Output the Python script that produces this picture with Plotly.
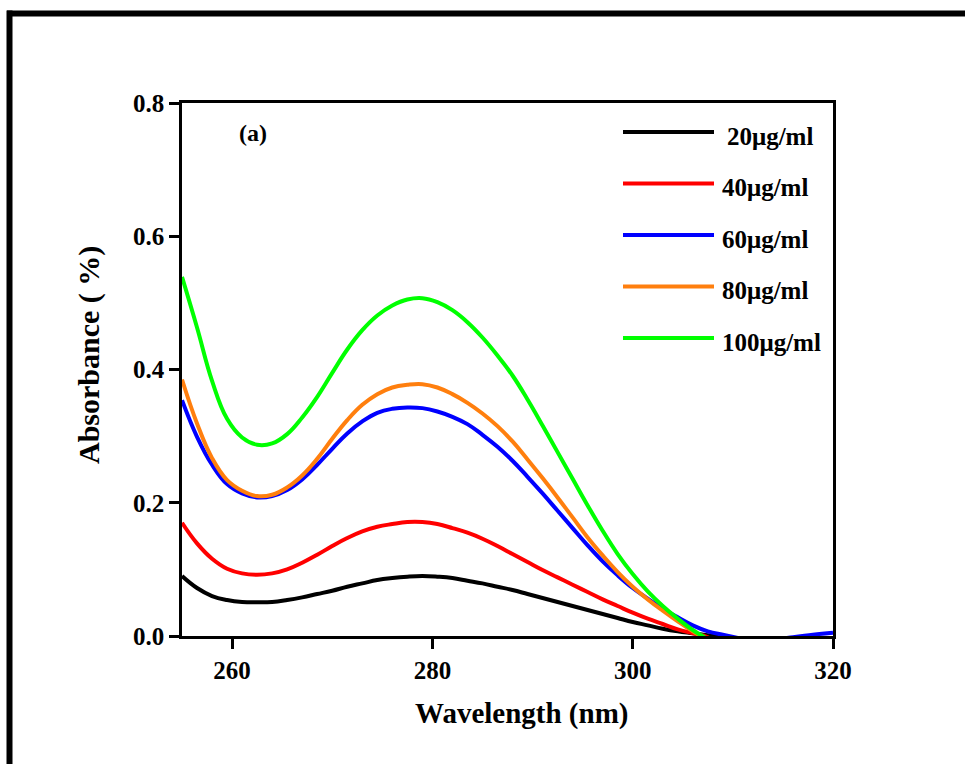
import plotly.graph_objects as go

# ---- data ----
wavelength = [255, 256.5, 258, 259.5, 261, 262.5, 264, 265.5, 267, 268.5, 270, 271.5, 273, 274.5,
              276, 277.5, 279, 280.5, 282, 283.5, 285, 286.5, 288, 289.5, 291, 292.5, 294, 295.5,
              297, 298.5, 300, 301.5, 303, 304.5, 306, 307.5, 309, 312, 316, 318, 320]

abs_20 = [0.090, 0.072, 0.060, 0.054, 0.051, 0.0505, 0.051, 0.054, 0.058, 0.063, 0.068, 0.074, 0.079, 0.084,
          0.087, 0.089, 0.090, 0.089, 0.087, 0.083, 0.079, 0.074, 0.069, 0.063, 0.057, 0.051, 0.045, 0.039,
          0.033, 0.027, 0.021, 0.016, 0.011, 0.007, 0.004, 0.001, -0.003, -0.03, -0.03, -0.03, -0.03]
abs_40 = [0.170, 0.139, 0.116, 0.101, 0.094, 0.092, 0.094, 0.100, 0.110, 0.122, 0.135, 0.147, 0.157, 0.164,
          0.168, 0.171, 0.171, 0.168, 0.162, 0.155, 0.146, 0.135, 0.123, 0.111, 0.099, 0.088, 0.077, 0.066,
          0.055, 0.045, 0.035, 0.026, 0.018, 0.010, 0.004, -0.002, -0.02, -0.03, -0.03, -0.03, -0.03]
abs_60 = [0.354, 0.299, 0.257, 0.228, 0.214, 0.208, 0.210, 0.219, 0.235, 0.257, 0.281, 0.304, 0.322, 0.335,
          0.341, 0.343, 0.342, 0.337, 0.329, 0.318, 0.302, 0.284, 0.263, 0.239, 0.214, 0.188, 0.162, 0.136,
          0.112, 0.091, 0.072, 0.056, 0.041, 0.028, 0.016, 0.007, 0.002, -0.006, -0.002, 0.002, 0.005]
abs_80 = [0.385, 0.319, 0.267, 0.234, 0.218, 0.210, 0.212, 0.223, 0.241, 0.266, 0.296, 0.324, 0.347, 0.363,
          0.373, 0.377, 0.378, 0.373, 0.363, 0.350, 0.334, 0.315, 0.292, 0.265, 0.237, 0.208, 0.178, 0.148,
          0.121, 0.096, 0.074, 0.055, 0.038, 0.022, 0.007, -0.006, -0.02, -0.03, -0.03, -0.03, -0.03]
abs_100 = [0.539, 0.463, 0.383, 0.326, 0.298, 0.287, 0.289, 0.303, 0.328, 0.359, 0.395, 0.430, 0.459, 0.481,
           0.496, 0.505, 0.507, 0.501, 0.489, 0.471, 0.448, 0.421, 0.391, 0.355, 0.316, 0.276, 0.236, 0.196,
           0.158, 0.123, 0.093, 0.067, 0.045, 0.026, 0.009, -0.005, -0.02, -0.03, -0.03, -0.03, -0.03]

series_names = ["20\u03bcg/ml", "40\u03bcg/ml", "60\u03bcg/ml", "80\u03bcg/ml", "100\u03bcg/ml"]
series_values = [abs_20, abs_40, abs_60, abs_80, abs_100]
series_colors = ["#000000", "#ff0000", "#0000ff", "#ff7f0e", "#00ff00"]

x_ticks = [260, 280, 300, 320]
y_ticks = [0.0, 0.2, 0.4, 0.6, 0.8]

FONT = "Liberation Serif"

fig = go.Figure()
for name, vals, col in zip(series_names, series_values, series_colors):
    fig.add_trace(go.Scatter(x=wavelength, y=vals, mode="lines", name=name,
                             line=dict(color=col, width=4, shape="spline", smoothing=1.2),
                             showlegend=False))

# plot-area geometry in pixels (for paper conversions)
L, R, T, B = 182, 833, 103, 636
W_, H_ = R - L, B - T
def px(x):
    return (x - L) / W_
def py(y):
    return (B - y) / H_

shapes = []
annotations = []

# legend drawn manually (long line samples)
leg_y = [132, 183.5, 235, 286.5, 338]
for i, (name, col) in enumerate(zip(series_names, series_colors)):
    yy = py(leg_y[i])
    shapes.append(dict(type="line", xref="paper", yref="paper", x0=px(623), x1=px(714), y0=yy, y1=yy,
                       line=dict(color=col, width=4)))
    annotations.append(dict(xref="paper", yref="paper", x=px(725 if i == 0 else 720), y=py(leg_y[i] + 4),
                            text=name, showarrow=False, xanchor="left", yanchor="middle",
                            font=dict(family=FONT, size=25, color="black", weight="bold")))

# outer frame (top and left thick borders)
shapes.append(dict(type="line", xref="paper", yref="paper", x0=px(7), x1=px(975), y0=py(13.5), y1=py(13.5),
                   line=dict(color="black", width=6)))
shapes.append(dict(type="line", xref="paper", yref="paper", x0=px(9.5), x1=px(9.5), y0=py(10.5), y1=py(780),
                   line=dict(color="black", width=6)))

# (a) label
annotations.append(dict(xref="paper", yref="paper", x=px(253), y=py(133), text="(a)", showarrow=False,
                        xanchor="center", yanchor="middle",
                        font=dict(family=FONT, size=24, color="black", weight="bold")))
# axis titles
annotations.append(dict(xref="paper", yref="paper", x=px(521), y=py(713), text="Wavelength (nm)", showarrow=False,
                        xanchor="center", yanchor="middle",
                        font=dict(family=FONT, size=29, color="black", weight="bold")))
annotations.append(dict(xref="paper", yref="paper", x=px(89), y=py(355), text="Absorbance ( %)", showarrow=False,
                        xanchor="center", yanchor="middle", textangle=-90,
                        font=dict(family=FONT, size=30, color="black", weight="bold")))

axis_common = dict(showline=True, linecolor="black", linewidth=2.5, mirror=True,
                   ticks="outside", ticklen=10, tickwidth=2.5, tickcolor="black",
                   showgrid=False, zeroline=False,
                   tickfont=dict(family=FONT, size=25, color="black", weight="bold"))

fig.update_layout(
    width=965, height=764,
    margin=dict(l=L, r=965 - R, t=T, b=764 - B, pad=0),
    paper_bgcolor="white", plot_bgcolor="white",
    xaxis=dict(range=[255, 320], tickvals=x_ticks, ticktext=[str(v) for v in x_ticks], **axis_common),
    yaxis=dict(range=[0, 0.8], tickvals=y_ticks, ticktext=[f"{v:.1f}" for v in y_ticks], **axis_common),
    shapes=shapes, annotations=annotations, showlegend=False,
)

fig.write_html("out.html")
